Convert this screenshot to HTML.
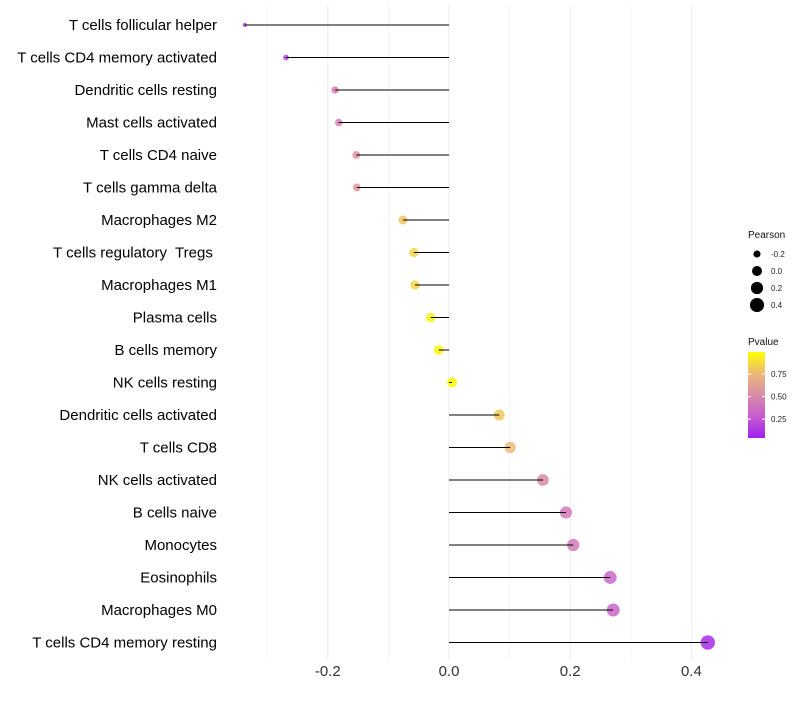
<!DOCTYPE html>
<html><head><meta charset="utf-8"><style>
body{margin:0;background:#fff;font-family:"Liberation Sans",sans-serif}
text{white-space:pre}
</style></head><body>
<svg id="chart" width="800" height="700" xmlns="http://www.w3.org/2000/svg">
<defs><linearGradient id="pg" x1="0" y1="1" x2="0" y2="0">
<stop offset="0" stop-color="#a020f0"/><stop offset="0.25" stop-color="#c65cd0"/><stop offset="0.5" stop-color="#d98ca8"/><stop offset="0.75" stop-color="#ebb878"/><stop offset="1" stop-color="#ffff00"/></linearGradient></defs>
<g id="grid"></g><g id="dots"></g><g id="marks"></g><g id="labels"></g>
</svg>
<script>
const categories=["T cells follicular helper","T cells CD4 memory activated","Dendritic cells resting","Mast cells activated","T cells CD4 naive","T cells gamma delta","Macrophages M2","T cells regulatory  Tregs ","Macrophages M1","Plasma cells","B cells memory","NK cells resting","Dendritic cells activated","T cells CD8","NK cells activated","B cells naive","Monocytes","Eosinophils","Macrophages M0","T cells CD4 memory resting"];
const pearson=[-0.337,-0.269,-0.188,-0.182,-0.153,-0.152,-0.076,-0.058,-0.056,-0.030,-0.017,0.005,0.083,0.101,0.155,0.193,0.205,0.266,0.271,0.427];
const pvalue=[0.10,0.15,0.45,0.45,0.55,0.55,0.80,0.85,0.85,0.95,0.97,1.0,0.80,0.75,0.50,0.40,0.40,0.30,0.30,0.05];
const xTicks=[-0.2,0.0,0.2,0.4];
const xMinor=[-0.3,-0.1,0.1,0.3];
const sizeLegend=[-0.2,0.0,0.2,0.4];
const colorTicks=[0.25,0.50,0.75];

const NS="http://www.w3.org/2000/svg";
const X=v=>449+v*606;
const Y=i=>25+i*32.5;
const R=v=>Math.sqrt(Math.max(3,25+62*v));
const stops=[[0,[160,32,240]],[0.25,[198,92,208]],[0.5,[217,140,168]],[0.75,[235,184,120]],[1,[255,255,0]]];
function col(p){for(let i=0;i<stops.length-1;i++){const a=stops[i],b=stops[i+1];if(p<=b[0]){const t=(p-a[0])/(b[0]-a[0]);return "rgb("+a[1].map((c,k)=>Math.round(c+(b[1][k]-c)*t)).join(",")+")";}}return "rgb(255,255,0)";}
function mk(tag,attrs,parent,text){const e=document.createElementNS(NS,tag);for(const k in attrs)e.setAttribute(k,attrs[k]);if(text!==undefined)e.textContent=text;parent.appendChild(e);return e;}
const grid=document.getElementById('grid'),marks=document.getElementById('marks'),dots=document.getElementById('dots'),labels=document.getElementById('labels');
xMinor.forEach(v=>{const l=mk('line',{x1:X(v),x2:X(v),y1:5,y2:660,stroke:'#f4f4f4','stroke-width':1},grid);

});
xTicks.forEach(v=>{const l=mk('line',{x1:X(v),x2:X(v),y1:5,y2:660,stroke:'#ebebeb','stroke-width':1},grid);


const t=mk('text',{x:X(v),y:676,'text-anchor':'middle','font-size':15,fill:'#333'},labels,v.toFixed(1));

});
categories.forEach((c,i)=>{
const d=mk('circle',{cx:X(pearson[i]),cy:Y(i),r:R(pearson[i]),fill:col(pvalue[i]),'fill-opacity':0.85},dots);


const s=mk('line',{x1:X(0),x2:X(pearson[i]),y1:Y(i),y2:Y(i),stroke:'#000','stroke-width':1},marks);


const t=mk('text',{x:217,y:Y(i)+5,'text-anchor':'end','font-size':15,fill:'#000'},labels,c);

});
const lt=mk('text',{x:748,y:238,'font-size':10,fill:'#111'},labels,'Pearson');


sizeLegend.forEach((v,i)=>{const y=254+i*17;
const c=mk('circle',{cx:757,cy:y,r:R(v),fill:'#000'},labels);


const t=mk('text',{x:771,y:y+3,'font-size':8,fill:'#222'},labels,v.toFixed(1));

});
const pt=mk('text',{x:748,y:345,'font-size':10,fill:'#111'},labels,'Pvalue');


const bar=mk('rect',{x:748,y:352,width:17,height:86,fill:'url(#pg)'},labels);


colorTicks.forEach(v=>{const y=352+86*(1-(v-0.04)/0.955);
mk('line',{x1:748,x2:751,y1:y,y2:y,stroke:'#fff','stroke-width':1},labels);
mk('line',{x1:762,x2:765,y1:y,y2:y,stroke:'#fff','stroke-width':1},labels);
const t=mk('text',{x:771,y:y+3,'font-size':8,fill:'#222'},labels,v.toFixed(2));

});
</script>
</body></html>
